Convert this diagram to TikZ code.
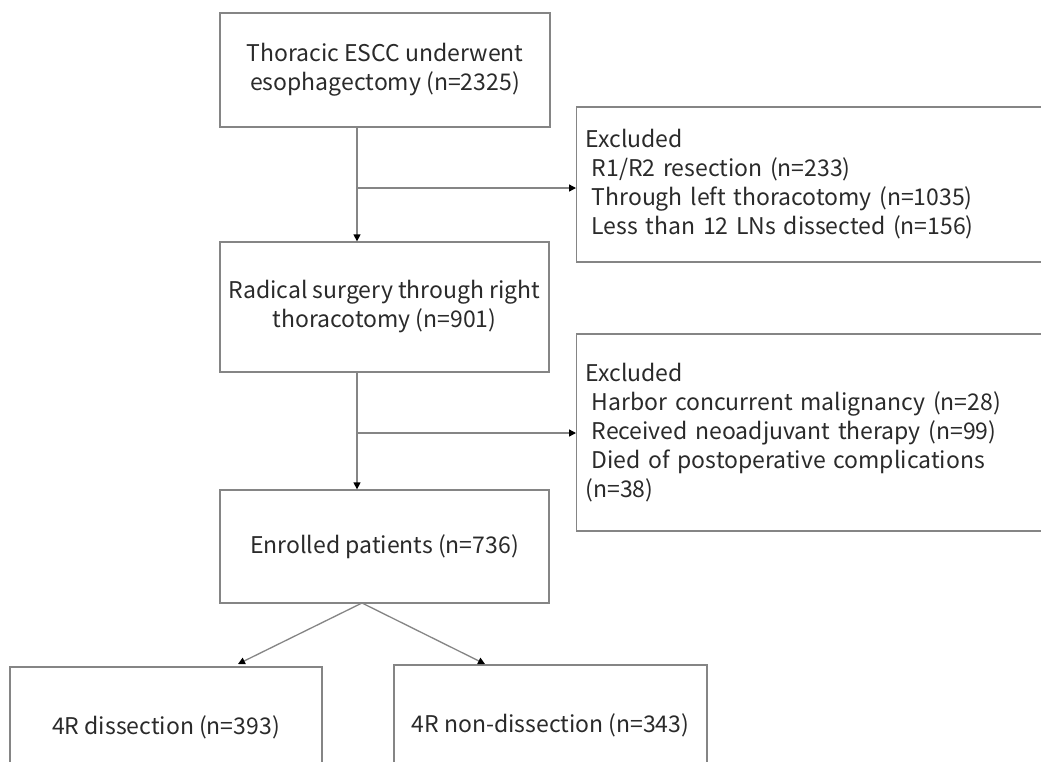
\documentclass[tikz,border=0pt]{standalone}
\usepackage{fontspec}
\setmainfont{Noto Sans CJK SC}
\usetikzlibrary{arrows.meta}
\definecolor{linegray}{HTML}{858585}
\definecolor{txt}{HTML}{2A2A2A}
\begin{document}
\begin{tikzpicture}[x=1pt,y=-1pt,
  box/.style={draw=linegray, line width=1.3pt, rectangle, inner sep=0pt, align=center,
    text=txt, font=\fontsize{23}{29}\selectfont},
  exbox/.style={box, align=left, inner xsep=9pt, anchor=west},
  conn/.style={draw=linegray, line width=1.3pt},
  arr/.style={conn, -{Triangle[length=7pt,width=7pt,color=black]}}]
\clip (0,0) rectangle (1041,761);
\fill[white] (0,0) rectangle (1041,761);

\node[box, minimum width=330pt, minimum height=114pt] (b1) at (385,70)
  {Thoracic ESCC underwent\\esophagectomy (n=2325)};
\node[box, minimum width=329pt, minimum height=130pt] (b2) at (384.5,307)
  {Radical surgery through right\\thoracotomy (n=901)};
\node[box, minimum width=329pt, minimum height=113pt] (b3) at (384.5,546.5)
  {Enrolled patients (n=736)};
\node[box, minimum width=312pt, minimum height=120pt] (b4) at (166,727)
  {4R dissection (n=393)};
\node[box, minimum width=313pt, minimum height=120pt] (b5) at (550.5,725)
  {4R non-dissection (n=343)};

\node[exbox, minimum width=490pt, minimum height=155pt, text width=472pt] (e1) at (576,184.5)
  {Excluded\\\hspace*{6pt}R1/R2 resection (n=233)\\\hspace*{6pt}Through left thoracotomy (n=1035)\\\hspace*{6pt}Less than 12 LNs dissected (n=156)};
\node[exbox, minimum width=490pt, minimum height=197pt, text width=472pt] (e2) at (576,432.5)
  {Excluded\\\hspace*{6pt}Harbor concurrent malignancy (n=28)\\\hspace*{6pt}Received neoadjuvant therapy (n=99)\\\hspace*{6pt}Died of postoperative complications\\(n=38)};

\coordinate (ax) at (357,0);
\coordinate (j1) at (357,188);
\coordinate (j2) at (357,433);
\coordinate (apex) at (362,603);
\coordinate (t4) at (238,664);
\coordinate (t5) at (485,664);

\draw[arr] (b1.south -| ax) -- (b2.north -| ax);
\draw[arr] (j1) -- (j1 -| e1.west);
\draw[arr] (b2.south -| ax) -- (b3.north -| ax);
\draw[arr] (j2) -- (j2 -| e2.west);
\draw[arr] (apex) -- (t4);
\draw[arr] (apex) -- (t5);
\end{tikzpicture}
\end{document}
